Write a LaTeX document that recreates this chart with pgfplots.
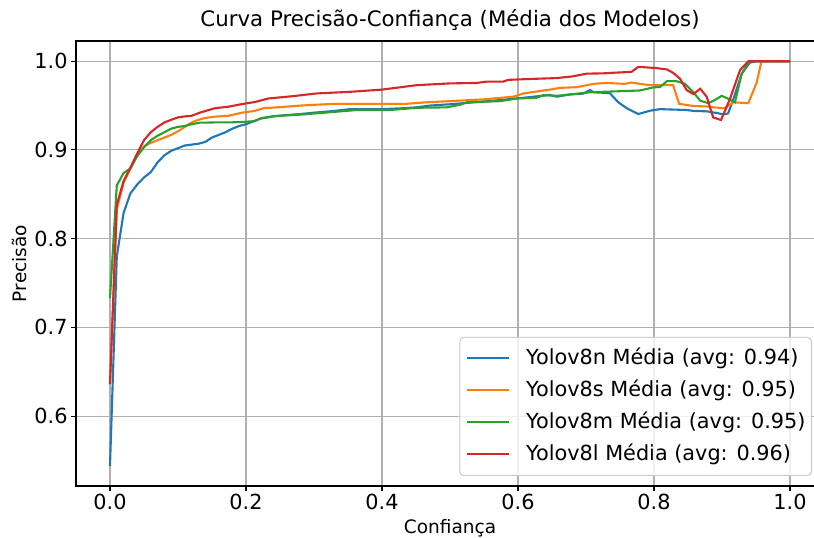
\documentclass[border=0pt]{standalone}
\usepackage{fontspec}
\setmainfont{DejaVu Sans}
\usepackage{pgfplots}
\pgfplotsset{compat=1.18}
\definecolor{c0}{HTML}{1F77B4}
\definecolor{c1}{HTML}{FF7F0E}
\definecolor{c2}{HTML}{2CA02C}
\definecolor{c3}{HTML}{D62728}
\begin{document}
\begin{tikzpicture}
\begin{axis}[
  scale only axis,
  width=748pt, height=445pt,
  xmin=-0.05, xmax=1.05,
  ymin=0.5212, ymax=1.0228,
  xtick={0,0.2,0.4,0.6,0.8,1.0},
  ytick={0.6,0.7,0.8,0.9,1.0},
  xtick pos=bottom, ytick pos=left,
  tick align=outside,
  major tick length=4.9pt,
  every tick/.style={black, line width=1.1pt},
  axis line style={line width=1.1pt, black},
  grid=major,
  major grid style={color=black!31, line width=1.1pt},
  /pgf/number format/assume math mode=true,
  /pgf/number format/.cd, fixed, fixed zerofill, precision=1, /pgfplots/.cd,
  ticklabel style={font=\fontsize{20.8}{25}\selectfont},
  title={Curva Precisão-Confiança (Média dos Modelos)},
  title style={at={(0.5,1)}, anchor=base, yshift=8.2pt, font=\fontsize{21.3}{25}\selectfont},
  xlabel={Confiança},
  xlabel style={at={([yshift=-47pt]axis description cs:0.5,0)}, anchor=base, font=\fontsize{18.5}{22}\selectfont},
  ylabel={Precisão},
  ylabel style={at={([xshift=-49pt]axis description cs:0,0.5)}, anchor=base, rotate=0, font=\fontsize{18.5}{22}\selectfont},
  legend cell align=left,
  legend image code/.code={\draw[#1] (0pt,0pt) -- (41.6pt,0pt);},
  legend style={at={(1,0)}, anchor=south east, xshift=-12pt, yshift=10pt,
    draw=black!20, rounded corners=4pt, fill=white, fill opacity=0.8, text opacity=1,
    draw opacity=1, line width=1.1pt,
    font=\fontsize{20.8}{25}\selectfont,
    inner xsep=6pt, inner ysep=10.8pt, row sep=11.5pt, column sep=16.6pt,
    nodes={inner sep=0pt, text height=16pt, text depth=4.5pt}},
]
\addplot[c0, line width=2.1pt] coordinates {
(0,0.544) (0.01,0.780) (0.02,0.829) (0.03,0.851) (0.04,0.861) (0.05,0.869) (0.06,0.875) (0.07,0.886) (0.08,0.894) (0.09,0.899) (0.10,0.902) (0.11,0.905) (0.12,0.906) (0.13,0.907) (0.14,0.909) (0.15,0.914) (0.16,0.917) (0.17,0.920) (0.18,0.924) (0.19,0.927) (0.20,0.929) (0.21,0.932) (0.22,0.935) (0.24,0.938) (0.255,0.939) (0.28,0.9405) (0.30,0.942) (0.33,0.944) (0.353,0.946) (0.40,0.946) (0.43,0.947) (0.451,0.948) (0.47,0.950) (0.50,0.9515) (0.549,0.9545) (0.598,0.958) (0.647,0.962) (0.657,0.960) (0.676,0.9625) (0.696,0.9635) (0.706,0.9675) (0.711,0.965) (0.735,0.964) (0.7475,0.9537) (0.760,0.947) (0.777,0.9405) (0.794,0.9442) (0.809,0.946) (0.848,0.945) (0.858,0.944) (0.8775,0.9435) (0.892,0.9417) (0.902,0.940) (0.909,0.9412) (0.917,0.958) (0.929,0.986) (0.941,0.9985) (0.951,1.0) (1.0,1.0)
};
\addlegendentry{Yolov8n Média (avg: 0.94)}
\addplot[c1, line width=2.1pt] coordinates {
(0,0.636) (0.01,0.833) (0.02,0.863) (0.03,0.879) (0.04,0.895) (0.05,0.904) (0.06,0.908) (0.07,0.911) (0.08,0.914) (0.09,0.917) (0.10,0.921) (0.11,0.926) (0.12,0.931) (0.13,0.934) (0.14,0.936) (0.154,0.9375) (0.174,0.9385) (0.194,0.942) (0.213,0.944) (0.2255,0.947) (0.255,0.9485) (0.28,0.950) (0.304,0.951) (0.333,0.952) (0.436,0.952) (0.461,0.9535) (0.50,0.955) (0.549,0.957) (0.593,0.960) (0.608,0.9637) (0.647,0.968) (0.662,0.970) (0.686,0.9707) (0.711,0.9745) (0.730,0.9755) (0.757,0.9745) (0.767,0.976) (0.779,0.9745) (0.794,0.973) (0.828,0.973) (0.837,0.952) (0.858,0.9495) (0.8775,0.949) (0.892,0.9477) (0.904,0.947) (0.9167,0.9537) (0.9387,0.9527) (0.951,0.976) (0.958,1.0) (1.0,1.0)
};
\addlegendentry{Yolov8s Média (avg: 0.95)}
\addplot[c2, line width=2.1pt] coordinates {
(0,0.733) (0.01,0.860) (0.02,0.874) (0.03,0.879) (0.04,0.893) (0.05,0.903) (0.06,0.911) (0.07,0.916) (0.08,0.920) (0.09,0.924) (0.10,0.926) (0.11,0.927) (0.12,0.929) (0.132,0.9307) (0.154,0.931) (0.174,0.931) (0.194,0.9315) (0.213,0.9325) (0.223,0.936) (0.243,0.938) (0.255,0.9387) (0.2835,0.940) (0.3235,0.9425) (0.363,0.945) (0.412,0.945) (0.451,0.9475) (0.495,0.948) (0.515,0.951) (0.525,0.9537) (0.574,0.955) (0.598,0.958) (0.627,0.9587) (0.637,0.9617) (0.657,0.961) (0.676,0.9625) (0.706,0.965) (0.779,0.967) (0.799,0.9705) (0.809,0.971) (0.819,0.9775) (0.833,0.9775) (0.8456,0.9745) (0.858,0.965) (0.868,0.9555) (0.880,0.9527) (0.890,0.9565) (0.8995,0.961) (0.907,0.9585) (0.919,0.9537) (0.929,0.986) (0.940,1.0) (1.0,1.0)
};
\addlegendentry{Yolov8m Média (avg: 0.95)}
\addplot[c3, line width=2.1pt] coordinates {
(0,0.636) (0.01,0.838) (0.02,0.865) (0.03,0.880) (0.04,0.896) (0.05,0.911) (0.06,0.920) (0.07,0.926) (0.08,0.931) (0.09,0.934) (0.10,0.9367) (0.11,0.9378) (0.12,0.9385) (0.132,0.942) (0.154,0.947) (0.174,0.9487) (0.194,0.9517) (0.213,0.954) (0.233,0.958) (0.27,0.9607) (0.304,0.9637) (0.353,0.9655) (0.40,0.968) (0.451,0.973) (0.50,0.975) (0.539,0.9755) (0.554,0.977) (0.578,0.977) (0.586,0.979) (0.618,0.980) (0.657,0.981) (0.681,0.983) (0.701,0.986) (0.725,0.9863) (0.740,0.987) (0.767,0.988) (0.777,0.9937) (0.804,0.9922) (0.819,0.9907) (0.828,0.987) (0.838,0.9805) (0.848,0.9675) (0.858,0.963) (0.868,0.969) (0.8775,0.960) (0.887,0.9367) (0.8985,0.9337) (0.912,0.958) (0.9265,0.990) (0.9387,1.0) (1.0,1.0)
};
\addlegendentry{Yolov8l Média (avg: 0.96)}
\end{axis}
\pgfresetboundingbox
\path[use as bounding box] ([xshift=-76pt,yshift=-52pt]current axis.south west) rectangle ([xshift=738pt,yshift=486pt]current axis.south west);
\end{tikzpicture}
\end{document}
